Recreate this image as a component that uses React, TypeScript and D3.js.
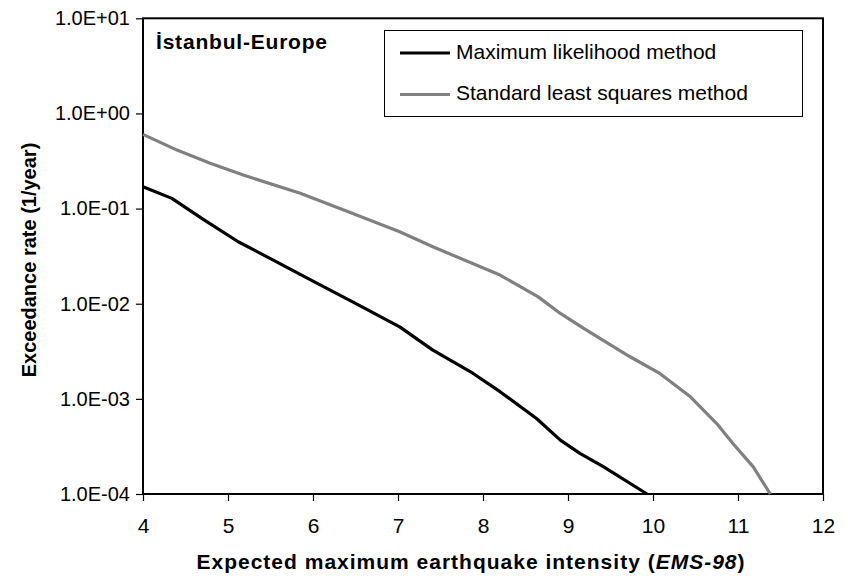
import * as React from 'react';
import * as d3 from 'd3';

// Maximum likelihood method
const mleX: number[] = [4.0, 4.34, 4.7, 5.12, 5.46, 6.0, 6.5, 7.02, 7.41, 7.88, 8.2, 8.63, 8.91, 9.14, 9.42, 9.93];
const mleY: number[] = [0.170, 0.128, 0.078, 0.0448, 0.0311, 0.0173, 0.0101, 0.00571, 0.00325, 0.00186, 0.00119, 0.000622, 0.000368, 0.000267, 0.000193, 0.0001];

// Standard least squares method
const lsqX: number[] = [4.0, 4.4, 4.79, 5.18, 5.85, 6.4, 7.02, 7.41, 8.2, 8.65, 8.91, 9.18, 9.73, 10.08, 10.44, 10.75, 10.94, 11.18, 11.38];
const lsqY: number[] = [0.603, 0.412, 0.299, 0.225, 0.145, 0.0935, 0.057, 0.0397, 0.020, 0.0118, 0.0079, 0.00553, 0.00277, 0.00185, 0.00105, 0.00055, 0.00034, 0.000193, 0.0001];

const xTicks: number[] = [4, 5, 6, 7, 8, 9, 10, 11, 12];
const yTicks: number[] = [1e-4, 1e-3, 1e-2, 1e-1, 1e0, 1e1];

const seriesNames: string[] = ['Maximum likelihood method', 'Standard least squares method'];
const seriesColors: string[] = ['#000000', '#808080'];

type Pt = { x: number, y: number };

const FONT = '"Liberation Sans", Arial, Helvetica, sans-serif';

class App extends React.Component<{}, {}> {
    private chartRef: React.RefObject<SVGSVGElement> = React.createRef();
    private dim = { width: 848, height: 579, left: 143, right: 823, top: 18.3, bottom: 494 };

    componentDidMount() {
        const svg = d3.select(this.chartRef.current);
        const { left, right, top, bottom } = this.dim;

        const xScale = d3.scaleLinear().domain([4, 12]).range([left, right]);
        const yScale = d3.scaleLog().domain([1e-4, 10]).range([bottom, top]);

        const fmt = (d: number) => {
            const e = Math.round(Math.log10(d));
            return `1.0E${e < 0 ? '-' : '+'}${String(Math.abs(e)).padStart(2, '0')}`;
        };

        // y axis
        const yAxis = d3.axisLeft(yScale).tickValues(yTicks).tickFormat(d => fmt(d as number)).tickSize(7).tickPadding(6);
        svg.append('g')
            .attr('transform', `translate(${left},0)`)
            .call(yAxis)
            .call(g => g.select('.domain').remove())
            .call(g => g.selectAll('.tick line').attr('stroke', '#000').attr('stroke-width', 1.2))
            .call(g => g.selectAll('.tick text')
                .attr('font-family', FONT).attr('font-size', 20).attr('fill', '#000'));

        // x axis
        const xAxis = d3.axisBottom(xScale).tickValues(xTicks).tickFormat(d3.format('d')).tickSize(7).tickPadding(17);
        svg.append('g')
            .attr('transform', `translate(0,${bottom})`)
            .call(xAxis)
            .call(g => g.select('.domain').remove())
            .call(g => g.selectAll('.tick line').attr('stroke', '#000').attr('stroke-width', 1.2))
            .call(g => g.selectAll('.tick text')
                .attr('font-family', FONT).attr('font-size', 21).attr('fill', '#000'));

        // plot frame
        svg.append('rect')
            .attr('x', left).attr('y', top)
            .attr('width', right - left).attr('height', bottom - top)
            .attr('fill', 'none').attr('stroke', '#000').attr('stroke-width', 2);

        const line = d3.line<Pt>().x(d => xScale(d.x)).y(d => yScale(d.y));
        const series: Pt[][] = [
            mleX.map((x, i) => ({ x, y: mleY[i] })),
            lsqX.map((x, i) => ({ x, y: lsqY[i] })),
        ];
        series.forEach((s, i) => {
            svg.append('path')
                .datum(s)
                .attr('fill', 'none')
                .attr('stroke', seriesColors[i])
                .attr('stroke-width', 3.2)
                .attr('stroke-linejoin', 'round')
                .attr('d', line(s)!);
        });

        // title inside plot
        svg.append('text')
            .attr('x', 156).attr('y', 49)
            .attr('font-family', FONT).attr('font-size', 21).attr('font-weight', 'bold')
            .attr('letter-spacing', 0.8)
            .text('İstanbul-Europe');

        // legend
        const lg = svg.append('g');
        lg.append('rect')
            .attr('x', 384.5).attr('y', 30.5).attr('width', 418).attr('height', 86)
            .attr('fill', '#fff').attr('stroke', '#000').attr('stroke-width', 1);
        seriesNames.forEach((name, i) => {
            const y = 53 + i * 41.5;
            lg.append('line')
                .attr('x1', 400).attr('x2', 450).attr('y1', y).attr('y2', y)
                .attr('stroke', seriesColors[i]).attr('stroke-width', 3.2);
            lg.append('text')
                .attr('x', 456).attr('y', y + 5.5)
                .attr('font-family', FONT).attr('font-size', 21)
                .text(name);
        });

        // axis titles
        const xt = svg.append('text')
            .attr('x', 471).attr('y', 569)
            .attr('text-anchor', 'middle')
            .attr('font-family', FONT).attr('font-size', 21).attr('font-weight', 'bold')
            .attr('letter-spacing', 1);
        xt.append('tspan').text('Expected maximum earthquake intensity (');
        xt.append('tspan').attr('font-style', 'italic').text('EMS-98');
        xt.append('tspan').text(')');

        svg.append('text')
            .attr('transform', `translate(36,260) rotate(-90)`)
            .attr('text-anchor', 'middle')
            .attr('font-family', FONT).attr('font-size', 20).attr('font-weight', 'bold')
            .text('Exceedance rate (1/year)');
    }

    render() {
        return (
            <svg ref={this.chartRef} width={this.dim.width} height={this.dim.height}
                style={{ position: 'absolute', left: 0, top: 0, background: '#fff' }}>
            </svg>
        );
    }
}

export default App;
